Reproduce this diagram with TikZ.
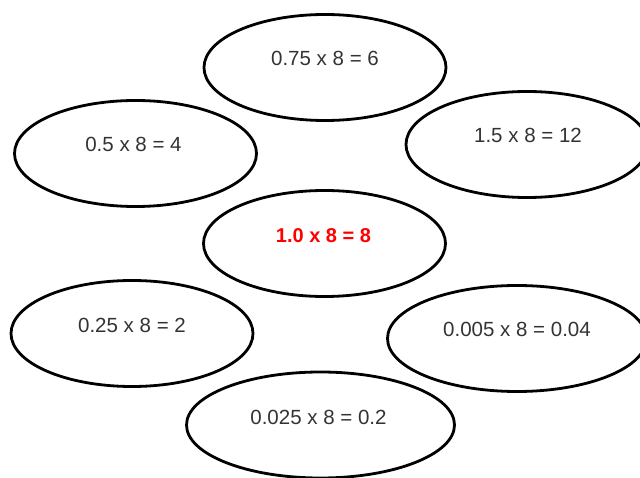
\documentclass[tikz,border=0pt]{standalone}
\usepackage{fontspec}
\setmainfont{Liberation Sans}
\usepackage{tikz}
\usetikzlibrary{shapes.geometric}
\definecolor{tinta}{HTML}{333333}
\definecolor{destaque}{HTML}{FF0000}

\tikzset{
  bolha/.style={ellipse, draw=black, line width=2.8pt, minimum width=242pt, minimum height=106pt, inner sep=0pt},
  conta/.style={text=tinta, font=\fontsize{20.5}{24}\selectfont, inner sep=0pt},
  principal/.style={conta, text=destaque, font=\fontsize{20}{24}\selectfont\bfseries}
}

\begin{document}
\begin{tikzpicture}[x=1pt, y=-1pt]
  \useasboundingbox (0,0) rectangle (640,478);
  \clip (0,0) rectangle (640,478);
  % ellipses
  \node[bolha] (topo) at (325,67.5) {};
  \node[bolha] (esqcima) at (135.5,153.5) {};
  \node[bolha] (dircima) at (527,144.5) {};
  \node[bolha] (meio) at (324.5,243.5) {};
  \node[bolha] (esqbaixo) at (132,333.5) {};
  \node[bolha, minimum width=259pt] (dirbaixo) at (517,338.5) {};
  \node[bolha, minimum width=268pt] (base) at (320.5,425) {};
  % texts
  \node[conta] (t1) at ([yshift=9pt]topo.center) {0.75 x 8 = 6};
  \node[conta] (t2) at ([xshift=-2pt, yshift=9pt]esqcima.center) {0.5 x 8 = 4};
  \node[conta] (t3) at ([xshift=1pt, yshift=9pt]dircima.center) {1.5 x 8 = 12};
  \node[principal] (t4) at ([xshift=-1pt, yshift=8pt]meio.center) {1.0 x 8 = 8};
  \node[conta] (t5) at ([yshift=8pt]esqbaixo.center) {0.25 x 8 = 2};
  \node[conta] (t6) at ([yshift=9pt]dirbaixo.center) {0.005 x 8 = 0.04};
  \node[conta] (t7) at ([xshift=-2pt, yshift=8pt]base.center) {0.025 x 8 = 0.2};
\end{tikzpicture}
\end{document}
